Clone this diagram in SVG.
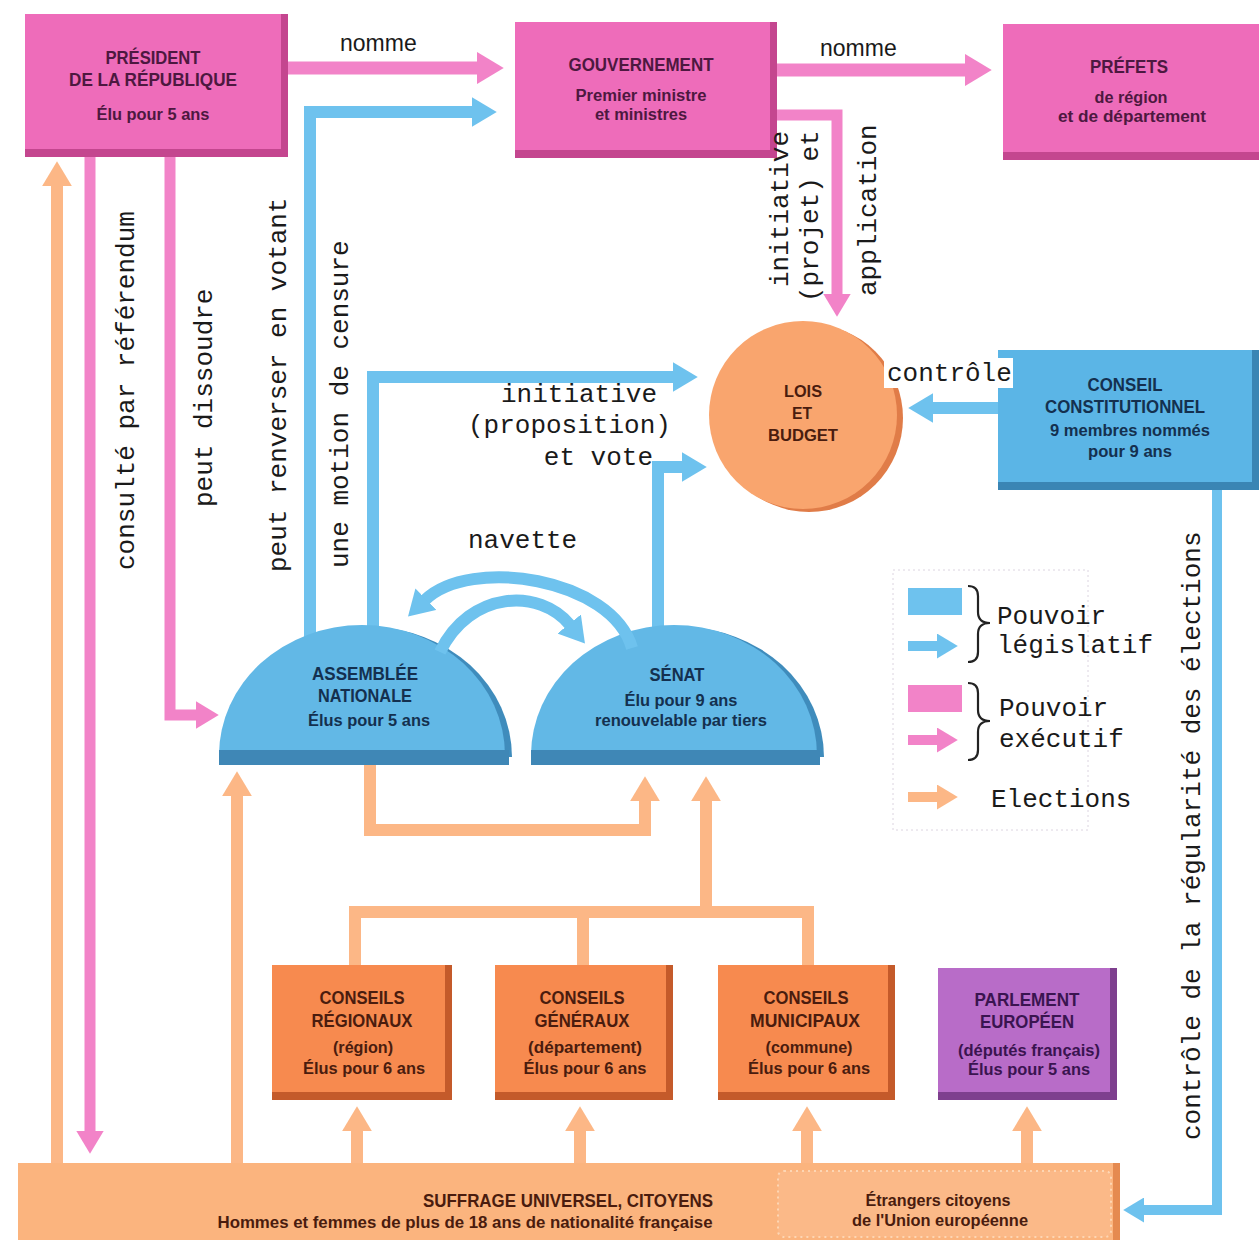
<svg xmlns="http://www.w3.org/2000/svg" width="1259" height="1240" viewBox="0 0 1259 1240">
<style>
.bx{font-family:"Liberation Sans",Arial,sans-serif;font-weight:bold;text-anchor:middle}
.h{font-size:19px}
.s{font-size:16px}
.pk{fill:#4d1840}
.bl{fill:#14304f}
.or{fill:#4a1c0e}
.pu{fill:#3a1450}
.mono{font-family:"Liberation Mono","DejaVu Sans Mono",monospace;font-size:26px;fill:#1a1a1a}
.nm{font-family:"Liberation Sans",Arial,sans-serif;font-size:23px;fill:#1a1a1a}
.cp{fill:none;stroke:#f283c8;stroke-linejoin:miter}
.cb{fill:none;stroke:#6ec2ee;stroke-linejoin:miter}
.co{fill:none;stroke:#fcb786;stroke-linejoin:miter}
</style>
<defs>
<marker id="ap" viewBox="0 0 10 12" refX="0.5" refY="6" markerWidth="2.1" markerHeight="2.5" orient="auto" markerUnits="strokeWidth"><path d="M0,0 L10,6 L0,12 Z" fill="#f283c8"/></marker>
<marker id="ab" viewBox="0 0 10 12" refX="0.5" refY="6" markerWidth="2.1" markerHeight="2.5" orient="auto" markerUnits="strokeWidth"><path d="M0,0 L10,6 L0,12 Z" fill="#6ec2ee"/></marker>
<marker id="ao" viewBox="0 0 10 12" refX="0.5" refY="6" markerWidth="2.1" markerHeight="2.5" orient="auto" markerUnits="strokeWidth"><path d="M0,0 L10,6 L0,12 Z" fill="#fcb786"/></marker>
</defs>
<rect width="1259" height="1240" fill="#ffffff"/>

<g id="connectors">
<path class="cp" stroke-width="13" d="M280,68 H478" marker-end="url(#ap)"/>
<path class="cp" stroke-width="13" d="M770,70 H966" marker-end="url(#ap)"/>
<path class="cb" stroke-width="12" d="M310,645 V112 H473" marker-end="url(#ab)"/>
<path class="cp" stroke-width="11" d="M770,115 H837 V295" marker-end="url(#ap)"/>
<path class="cb" stroke-width="12" d="M373,640 V377 H674" marker-end="url(#ab)"/>
<path class="cb" stroke-width="12" d="M658,640 V467 H683" marker-end="url(#ab)"/>
<path class="cb" stroke-width="12" d="M1002,408 H932" marker-end="url(#ab)"/>
<path class="cb" stroke-width="10" d="M1217,485 V1210 H1143" marker-end="url(#ab)"/>
<path class="cp" stroke-width="11" d="M90,150 V1132" marker-end="url(#ap)"/>
<path class="cp" stroke-width="11" d="M170,150 V715 H197" marker-end="url(#ap)"/>
<path class="co" stroke-width="12" d="M57,1170 V185" marker-end="url(#ao)"/>
<path class="co" stroke-width="12" d="M237,1170 V795" marker-end="url(#ao)"/>
<path class="co" stroke-width="12" d="M370,760 V830 H645 V800" marker-end="url(#ao)"/>
<path class="co" stroke-width="12" d="M355,970 V912 H808 V970"/>
<path class="co" stroke-width="12" d="M583,970 V912"/>
<path class="co" stroke-width="12" d="M706,912 V800" marker-end="url(#ao)"/>
<path class="co" stroke-width="12" d="M357,1170 V1130" marker-end="url(#ao)"/>
<path class="co" stroke-width="12" d="M580,1170 V1130" marker-end="url(#ao)"/>
<path class="co" stroke-width="12" d="M807,1170 V1130" marker-end="url(#ao)"/>
<path class="co" stroke-width="12" d="M1027,1170 V1130" marker-end="url(#ao)"/>
</g>

<g id="president">
<rect x="25" y="14" width="263" height="143" fill="#c4468f"/>
<rect x="25" y="14" width="256" height="135" fill="#ee6cba"/>
<text class="bx h pk" x="153" y="64" textLength="95" lengthAdjust="spacingAndGlyphs">PRÉSIDENT</text>
<text class="bx h pk" x="153" y="86" textLength="168" lengthAdjust="spacingAndGlyphs">DE LA RÉPUBLIQUE</text>
<text class="bx s pk" x="153" y="120" textLength="113" lengthAdjust="spacingAndGlyphs">Élu pour 5 ans</text>
</g>

<g id="gouvernement">
<rect x="515" y="22" width="262" height="136" fill="#c4468f"/>
<rect x="515" y="22" width="255" height="128" fill="#ee6cba"/>
<text class="bx h pk" x="641" y="71" textLength="145" lengthAdjust="spacingAndGlyphs">GOUVERNEMENT</text>
<text class="bx s pk" x="641" y="101" textLength="131" lengthAdjust="spacingAndGlyphs">Premier ministre</text>
<text class="bx s pk" x="641" y="120" textLength="92" lengthAdjust="spacingAndGlyphs">et ministres</text>
</g>

<g id="prefets">
<rect x="1003" y="24" width="256" height="136" fill="#c4468f"/>
<rect x="1003" y="24" width="256" height="128" fill="#ee6cba"/>
<text class="bx h pk" x="1129" y="73" textLength="78" lengthAdjust="spacingAndGlyphs">PRÉFETS</text>
<text class="bx s pk" x="1131" y="103" textLength="73" lengthAdjust="spacingAndGlyphs">de région</text>
<text class="bx s pk" x="1132" y="122" textLength="148" lengthAdjust="spacingAndGlyphs">et de département</text>
</g>

<g id="lois">
<circle cx="809" cy="418" r="94" fill="#e07c48"/>
<circle cx="803" cy="415" r="94" fill="#f9a56e"/>
<text class="bx s or" x="803" y="397" textLength="38" lengthAdjust="spacingAndGlyphs">LOIS</text>
<text class="bx s or" x="802" y="419" textLength="20" lengthAdjust="spacingAndGlyphs">ET</text>
<text class="bx s or" x="803" y="441" textLength="70" lengthAdjust="spacingAndGlyphs">BUDGET</text>
</g>

<g id="conseil-constitutionnel">
<rect x="998" y="350" width="261" height="140" fill="#3a85b4"/>
<rect x="998" y="350" width="254" height="132" fill="#5bb5e6"/>
<text class="bx h bl" x="1125" y="391" textLength="75" lengthAdjust="spacingAndGlyphs">CONSEIL</text>
<text class="bx h bl" x="1125" y="413" textLength="160" lengthAdjust="spacingAndGlyphs">CONSTITUTIONNEL</text>
<text class="bx s bl" x="1130" y="436" textLength="160" lengthAdjust="spacingAndGlyphs">9 membres nommés</text>
<text class="bx s bl" x="1130" y="457" textLength="84" lengthAdjust="spacingAndGlyphs">pour 9 ans</text>
</g>

<g id="assemblee">
<path d="M226,757 A143,130 0 0 1 512,757 Z" fill="#3f8cbc"/>
<path d="M219,755 A143,130 0 0 1 505,755 Z" fill="#62b8e6"/>
<rect x="219" y="750" width="290" height="15" fill="#3f87b6"/>
<text class="bx h bl" x="365" y="680" textLength="106" lengthAdjust="spacingAndGlyphs">ASSEMBLÉE</text>
<text class="bx h bl" x="365" y="702" textLength="94" lengthAdjust="spacingAndGlyphs">NATIONALE</text>
<text class="bx s bl" x="369" y="726" textLength="122" lengthAdjust="spacingAndGlyphs">Élus pour 5 ans</text>
</g>

<g id="senat">
<path d="M538,757 A143,130 0 0 1 824,757 Z" fill="#3f8cbc"/>
<path d="M531,755 A143,130 0 0 1 817,755 Z" fill="#62b8e6"/>
<rect x="531" y="750" width="289" height="15" fill="#3f87b6"/>
<text class="bx h bl" x="677" y="681" textLength="55" lengthAdjust="spacingAndGlyphs">SÉNAT</text>
<text class="bx s bl" x="681" y="706" textLength="113" lengthAdjust="spacingAndGlyphs">Élu pour 9 ans</text>
<text class="bx s bl" x="681" y="726" textLength="172" lengthAdjust="spacingAndGlyphs">renouvelable par tiers</text>
</g>

<g id="navette">
<path class="cb" stroke-width="12" d="M632,648 C612,578 470,556 425,600" marker-end="url(#ab)"/>
<path class="cb" stroke-width="12" d="M440,652 C470,590 540,588 570,625" marker-end="url(#ab)"/>
</g>

<g id="conseils-regionaux">
<rect x="272" y="965" width="180" height="135" fill="#c45a2a"/>
<rect x="272" y="965" width="173" height="127" fill="#f78a4f"/>
<text class="bx h or" x="362" y="1004" textLength="85" lengthAdjust="spacingAndGlyphs">CONSEILS</text>
<text class="bx h or" x="362" y="1027" textLength="101" lengthAdjust="spacingAndGlyphs">RÉGIONAUX</text>
<text class="bx s or" x="363" y="1053" textLength="60" lengthAdjust="spacingAndGlyphs">(région)</text>
<text class="bx s or" x="364" y="1074" textLength="122" lengthAdjust="spacingAndGlyphs">Élus pour 6 ans</text>
</g>

<g id="conseils-generaux">
<rect x="495" y="965" width="178" height="135" fill="#c45a2a"/>
<rect x="495" y="965" width="171" height="127" fill="#f78a4f"/>
<text class="bx h or" x="582" y="1004" textLength="85" lengthAdjust="spacingAndGlyphs">CONSEILS</text>
<text class="bx h or" x="582" y="1027" textLength="95" lengthAdjust="spacingAndGlyphs">GÉNÉRAUX</text>
<text class="bx s or" x="585" y="1053" textLength="114" lengthAdjust="spacingAndGlyphs">(département)</text>
<text class="bx s or" x="585" y="1074" textLength="123" lengthAdjust="spacingAndGlyphs">Élus pour 6 ans</text>
</g>

<g id="conseils-municipaux">
<rect x="718" y="965" width="177" height="135" fill="#c45a2a"/>
<rect x="718" y="965" width="170" height="127" fill="#f78a4f"/>
<text class="bx h or" x="806" y="1004" textLength="85" lengthAdjust="spacingAndGlyphs">CONSEILS</text>
<text class="bx h or" x="805" y="1027" textLength="110" lengthAdjust="spacingAndGlyphs">MUNICIPAUX</text>
<text class="bx s or" x="809" y="1053" textLength="87" lengthAdjust="spacingAndGlyphs">(commune)</text>
<text class="bx s or" x="809" y="1074" textLength="122" lengthAdjust="spacingAndGlyphs">Élus pour 6 ans</text>
</g>

<g id="parlement-europeen">
<rect x="938" y="968" width="179" height="132" fill="#7e3f8e"/>
<rect x="938" y="968" width="172" height="124" fill="#b86cc8"/>
<text class="bx h pu" x="1027" y="1006" textLength="105" lengthAdjust="spacingAndGlyphs">PARLEMENT</text>
<text class="bx h pu" x="1027" y="1028" textLength="94" lengthAdjust="spacingAndGlyphs">EUROPÉEN</text>
<text class="bx s pu" x="1029" y="1056" textLength="142" lengthAdjust="spacingAndGlyphs">(députés français)</text>
<text class="bx s pu" x="1029" y="1075" textLength="122" lengthAdjust="spacingAndGlyphs">Élus pour 5 ans</text>
</g>

<g id="suffrage">
<rect x="18" y="1163" width="1102" height="77" fill="#fbb47e"/>
<rect x="1113" y="1163" width="7" height="77" fill="#e58a50"/>
<rect x="778" y="1171" width="333" height="66" rx="6" fill="#fbb988" stroke="#fdd6b4" stroke-width="2" stroke-dasharray="2 4"/>
<text class="bx h or" x="568" y="1207" textLength="290" lengthAdjust="spacingAndGlyphs">SUFFRAGE UNIVERSEL, CITOYENS</text>
<text class="bx s or" x="465" y="1228" textLength="495" lengthAdjust="spacingAndGlyphs">Hommes et femmes de plus de 18 ans de nationalité française</text>
<text class="bx s or" x="938" y="1206" textLength="145" lengthAdjust="spacingAndGlyphs">Étrangers citoyens</text>
<text class="bx s or" x="940" y="1226" textLength="176" lengthAdjust="spacingAndGlyphs">de l'Union européenne</text>
</g>

<g id="legend">
<rect x="893" y="570" width="195" height="260" fill="none" stroke="#dcd4e0" stroke-width="1" stroke-dasharray="2 3"/>
<rect x="908" y="588" width="54" height="27" fill="#6ec2ee"/>
<path class="cb" stroke-width="10" d="M908,646 H938" marker-end="url(#ab)"/>
<path d="M968,586 Q978,586 978,596 L978,612 Q978,623 990,623 Q978,623 978,634 L978,652 Q978,662 968,662" fill="none" stroke="#222" stroke-width="2.2"/>
<text class="mono" x="997" y="624">Pouvoir</text>
<text class="mono" x="997" y="653">législatif</text>
<rect x="908" y="685" width="54" height="27" fill="#f283c8"/>
<path class="cp" stroke-width="10" d="M908,740 H938" marker-end="url(#ap)"/>
<path d="M968,683 Q978,683 978,693 L978,710 Q978,721 990,721 Q978,721 978,732 L978,750 Q978,760 968,760" fill="none" stroke="#222" stroke-width="2.2"/>
<text class="mono" x="999" y="716">Pouvoir</text>
<text class="mono" x="999" y="747">exécutif</text>
<path class="co" stroke-width="10" d="M908,797 H938" marker-end="url(#ao)"/>
<text class="mono" x="991" y="807">Elections</text>
</g>

<g id="labels">
<text class="nm" x="340" y="51">nomme</text>
<text class="nm" x="820" y="56">nomme</text>
<text class="mono" transform="translate(134,570) rotate(-90)">consulté par référendum</text>
<text class="mono" transform="translate(212,507) rotate(-90)">peut dissoudre</text>
<text class="mono" transform="translate(286,572) rotate(-90)">peut renverser en votant</text>
<text class="mono" transform="translate(348,568) rotate(-90)">une motion de censure</text>
<text class="mono" transform="translate(788,287) rotate(-90)">initiative</text>
<text class="mono" transform="translate(818,302) rotate(-90)">(projet) et</text>
<text class="mono" transform="translate(876,296) rotate(-90)">application</text>
<text class="mono" transform="translate(1200,1140) rotate(-90)">contrôle de la régularité des élections</text>
<text class="mono" x="657" y="402" text-anchor="end">initiative</text>
<text class="mono" x="468" y="433">(proposition)</text>
<text class="mono" x="653" y="465" text-anchor="end">et vote</text>
<text class="mono" x="468" y="548">navette</text>
<rect x="884" y="358" width="129" height="30" fill="#ffffff"/>
<text class="mono" x="887" y="381">contrôle</text>
</g>
</svg>
